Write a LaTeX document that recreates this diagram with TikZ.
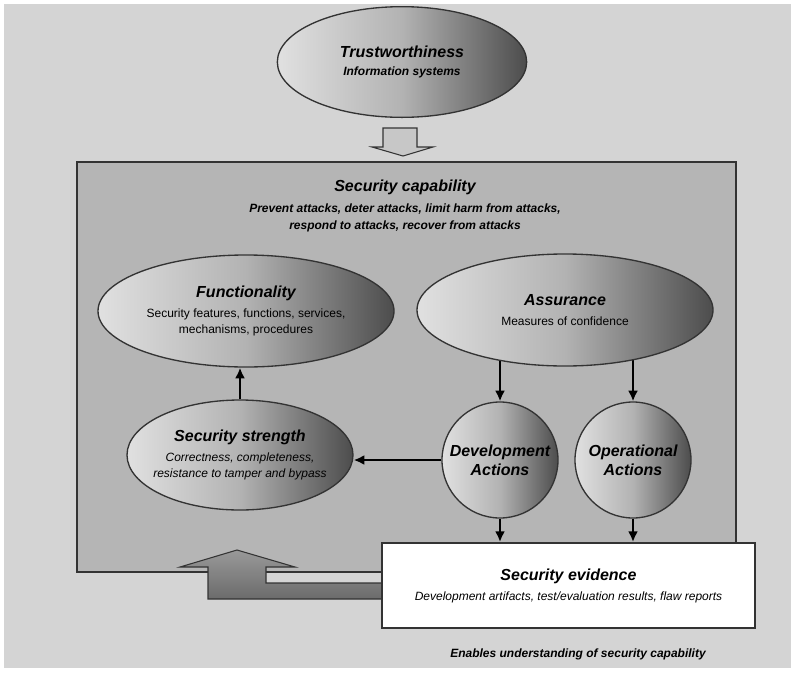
\documentclass[tikz,border=0pt]{standalone}
\usepackage{fontspec}
\setmainfont{Liberation Sans}
\usetikzlibrary{shapes.geometric,arrows.meta}
\pgfdeclarelayer{behind}
\pgfsetlayers{behind,main}
\definecolor{bgpanel}{gray}{0.83}
\definecolor{cappanel}{gray}{0.71}
\definecolor{edge}{gray}{0.2}
\definecolor{lite}{gray}{0.88}
\definecolor{mid}{gray}{0.7}
\definecolor{deep}{gray}{0.3}
\definecolor{hollow}{gray}{0.78}
\definecolor{bigtop}{gray}{0.6}
\definecolor{bigbot}{gray}{0.42}
\newcommand\hdfont{\fontsize{12}{14}\selectfont\bfseries\itshape}
\newcommand\bodyfont{\fontsize{9}{12}\selectfont}
\begin{document}
\begin{tikzpicture}[x=0.75pt,y=-0.75pt,
  every node/.style={font=\bodyfont,align=center,inner sep=0pt},
  oval/.style={ellipse,draw=edge,line width=1pt,left color=lite,right color=deep,middle color=mid},
  ball/.style={circle,draw=edge,line width=1pt,minimum size=87pt,left color=lite,right color=deep,middle color=mid,font=\hdfont},
  arr/.style={-{Latex[length=8pt,width=7.5pt]},line width=2.2pt,black}]
\useasboundingbox (0,0) rectangle (800,679);
% panels
\begin{pgfonlayer}{behind}
\fill[white] (0,0) rectangle (800,679);
\fill[bgpanel] (4,4) rectangle (791,668);
\node[draw=edge,fill=cappanel,line width=1.2pt,minimum width=494pt,minimum height=307.5pt] (cap) at (406.5,367) {};
\end{pgfonlayer}
% ellipses and circles
\node[oval,minimum width=187pt,minimum height=83pt] (trust) at (402,62) {{\hdfont Trustworthiness}\\[1pt]{\bfseries\itshape Information systems}};
\draw[fill=hollow,draw=edge,line width=0.8pt] (383,128) -- (417,128) -- (417,147) -- (433,147) -- (403,156) -- (372,147) -- (383,147) -- cycle;
\node[font=\hdfont] (captitle) at (405,187) {Security capability};
\node[font=\fontsize{9}{12.75}\selectfont\bfseries\itshape] (capsub) at (405,218) {Prevent attacks, deter attacks, limit harm from attacks,\\respond to attacks, recover from attacks};
\node[oval,minimum width=222pt,minimum height=84pt] (func) at (246,311) {{\hdfont Functionality}\\[3pt]Security features, functions, services,\\mechanisms, procedures};
\node[oval,minimum width=222pt,minimum height=84pt] (assur) at (565,310) {{\hdfont Assurance}\\[3pt]Measures of confidence};
\node[oval,minimum width=169.5pt,minimum height=82.5pt] (strength) at (240,455) {};
\node[font=\bodyfont\itshape] (strtext) at (strength) {{\hdfont Security strength}\\[3pt]Correctness, completeness,\\resistance to tamper and bypass};
\node[ball] (dev) at (500,460) {Development\\Actions};
\node[ball] (oper) at (633,460) {Operational\\Actions};
% feedback arrow
\draw[draw=edge,line width=0.8pt,top color=bigtop,bottom color=bigbot] (383,583) -- (266,583) -- (266,567) -- (295,567) -- (237,550) -- (180,567) -- (208,567) -- (208,599) -- (383,599) -- cycle;
\node[draw=edge,fill=white,line width=1.2pt,minimum width=280pt,minimum height=64pt,font=\bodyfont\itshape] (evid) at (568.5,585.5) {{\hdfont Security evidence}\\[3pt]Development artifacts, test/evaluation results, flaw reports};
\node[font=\bodyfont\bfseries\itshape] (enab) at (578,654) {Enables understanding of security capability};
% connectors
\begin{pgfonlayer}{behind}
\draw[arr] (dev.north |- assur.center) -- (dev.north);
\draw[arr] (oper.north |- assur.center) -- (oper.north);
\end{pgfonlayer}
\draw[arr] (strength.north) -- (strength.north |- func.south);
\draw[arr] (dev.west) -- (dev.west -| strength.east);
\draw[arr] (dev.south) -- (dev.south |- evid.north);
\draw[arr] (oper.south) -- (oper.south |- evid.north);
\end{tikzpicture}
\end{document}
